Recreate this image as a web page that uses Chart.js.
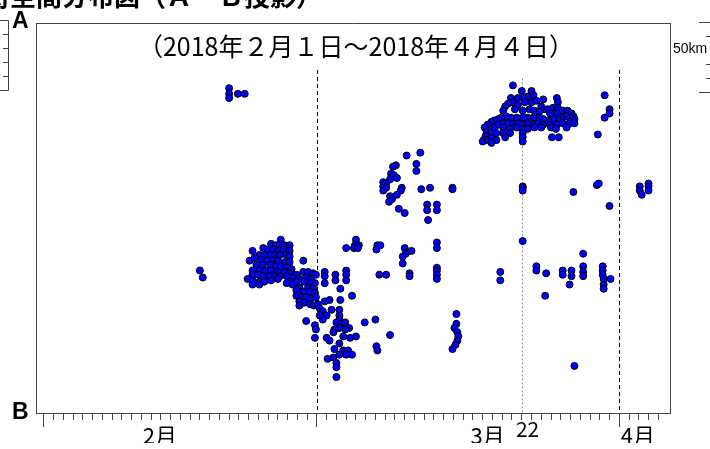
<!DOCTYPE html>
<html>
<head>
<meta charset="utf-8">
<script src="https://cdn.jsdelivr.net/npm/chart.js@4.4.0/dist/chart.umd.min.js"></script>
<style>
  html, body { margin: 0; padding: 0; background: #fff; }
</style>
</head>
<body>
<canvas id="chart" width="710" height="449"></canvas>
<script>
// days since 2018-02-01 00:00, distance along A-B (km from B)
const quakeDay = [
  16.0, 16.3, 19.0, 19.0, 19.0, 19.9, 20.6,
  // late Feb swarm
  24.3, 23.3, 23.8, 24.2, 24.7, 25.2, 22.5, 21.4, 22.9, 23.5, 24.0, 24.6, 25.2,
  22.1, 22.6, 23.2, 23.7, 24.2, 24.9, 25.2, 21.1, 21.6, 22.3, 22.9, 23.5, 24.0,
  24.7, 25.2, 26.6, 21.8, 22.4, 23.2, 23.8, 24.3, 24.9, 25.4, 21.4, 22.1, 22.7,
  23.3, 24.0, 24.7, 25.2, 25.9, 26.6, 27.1, 27.6, 21.4, 22.0, 22.5, 23.1, 23.7,
  24.2, 24.9, 25.5, 26.2, 26.9, 27.4, 27.9, 20.9, 21.4, 22.1, 22.6, 23.3, 24.0,
  25.2, 25.9, 26.7, 27.3, 27.8, 21.4, 22.1, 24.9, 25.5, 26.2, 27.1, 27.6, 25.9,
  26.6, 27.2, 27.8, 25.9, 26.4, 26.9, 27.4, 27.9, 26.2, 26.7, 27.3, 27.7, 26.2, 28.1,
  // early Mar
  32.0, 31.9, 32.3, 31.8, 32.2, 31.0, 34.2, 34.5, 34.1, 28.8, 28.8, 28.8, 29.9,
  29.9, 31.0, 31.0, 31.0, 34.4, 35.1, 30.4, 31.6, 30.4, 28.8, 29.3, 28.3, 28.6,
  29.5, 28.3, 29.0, 30.3, 30.3, 30.3, 30.0, 30.5, 30.9, 31.3, 30.9, 30.3, 29.8,
  26.9, 27.8, 27.9, 27.8, 28.6, 32.9, 34.0, 29.0, 29.3, 29.7, 30.7, 31.4, 32.0,
  35.5, 34.1, 34.2, 29.8, 30.3, 30.7, 31.2, 31.6, 31.0, 30.3, 29.7, 29.1, 30.0,
  30.0, 30.0,
  // mid Mar
  37.2, 38.6, 38.2, 38.2, 36.1, 35.8, 35.6, 35.9, 36.2, 35.5, 34.8, 35.1, 34.8,
  35.1, 34.8, 36.7, 36.6, 38.7, 39.6, 41.9, 41.9, 35.5, 35.7, 36.2, 35.4, 36.4,
  37.0, 39.3, 39.3, 40.3, 40.3, 39.4, 37.0, 37.2, 37.7, 37.1, 36.8, 36.8, 40.3,
  40.3, 37.5, 37.5, 40.3, 40.3, 40.3, 40.3, 42.3, 42.3, 42.1, 42.4, 42.5, 42.4,
  42.2, 41.9,
  // late Mar swarm
  48.1, 49.0, 50.0, 50.2, 49.6, 49.1, 48.6, 47.9, 51.2, 52.6, 52.7, 48.1, 47.6,
  47.3, 47.1, 48.6, 49.3, 50.0, 50.5, 51.0, 51.3, 51.7, 52.2, 52.7, 48.3, 49.1,
  49.8, 50.3, 50.8, 51.9, 52.4, 52.7, 53.2, 53.7, 54.1, 54.3, 54.4, 53.9, 53.6,
  53.1, 52.7, 52.2, 51.7, 51.2, 50.7, 50.2, 49.6, 49.1, 48.5, 47.9, 47.4, 46.9,
  46.6, 46.2, 45.9, 45.5, 45.2, 45.4, 45.3, 45.1, 45.0, 45.5, 45.9, 45.9, 46.2,
  46.6, 47.1, 47.6, 48.1, 48.6, 49.1, 49.6, 50.2, 50.7, 51.2, 51.9, 52.6, 53.2,
  53.9, 54.4, 47.1, 47.8, 48.5, 49.1, 49.6, 50.3, 51.0, 52.0, 52.5, 53.6, 46.4,
  47.1, 47.8, 49.1, 49.1, 49.1, 46.4, 47.3, 45.9, 52.1, 52.8,
  57.5, 58.0, 58.0, 57.5, 56.8,
  // scattered, late Mar - early Apr
  49.1, 49.1, 49.1, 54.3, 56.7, 56.9, 58.0, 61.1, 61.1, 61.3, 62.0, 62.0, 62.0,
  49.1, 55.3, 46.8, 46.8, 50.5, 50.5, 51.5, 51.4, 53.2, 53.2, 54.1, 54.1, 53.9,
  55.3, 55.3, 55.3, 57.3, 57.3, 57.3, 57.4, 57.4, 57.4, 58.1, 54.4
];

const quakeDist = [
  99, 94, 229, 225, 222, 225, 225,
  121, 118, 117, 117, 117, 117, 115, 113, 114, 114, 113, 114, 113,
  110, 110, 110, 110, 110, 110, 109, 106, 108, 107, 106, 106, 106,
  105, 105, 106, 103, 103, 103, 102, 102, 101, 100, 99, 99, 99,
  99, 98, 98, 97, 96, 98, 98, 97, 96, 96, 95, 95, 95,
  95, 95, 94, 93, 94, 93, 96, 93, 92, 91, 91, 92, 93,
  91, 91, 91, 90, 90, 89, 89, 90, 89, 87, 87, 86, 85,
  84, 84, 83, 81, 80, 80, 79, 80, 77, 76, 75, 74, 74, 75,
  121, 117, 117, 115, 115, 115, 117, 117, 114, 98, 95, 90, 96,
  92, 99, 96, 92, 96, 96, 86, 81, 78, 77, 78, 72, 70,
  71, 67, 67, 71, 67, 64, 62, 61, 62, 58, 57, 58, 57,
  63, 60, 57, 51, 64, 62, 64, 51, 49, 55, 52, 51, 52,
  53, 45, 42, 43, 47, 42, 42, 39, 39, 39, 37, 36, 33,
  30, 23,
  181, 183, 175, 170, 174, 173, 168, 167, 165, 164, 162, 161, 159,
  158, 156, 158, 156, 157, 158, 158, 157, 152, 150, 153, 148, 143,
  140, 146, 142, 146, 142, 135, 115, 112, 113, 111, 109, 104, 119,
  115, 97, 95, 101, 99, 96, 93, 68, 61, 58, 55, 52, 49,
  46, 43,
  231, 227, 227, 224, 223, 222, 222, 222, 221, 222, 219, 219, 218,
  216, 213, 217, 219, 219, 220, 216, 214, 214, 215, 215, 214, 213,
  214, 213, 212, 211, 211, 211, 213, 213, 211, 209, 207, 208, 209,
  208, 207, 207, 206, 207, 208, 208, 208, 208, 208, 208, 209, 208,
  207, 206, 205, 203, 201, 198, 195, 192, 191, 192, 195, 198, 201,
  203, 204, 204, 204, 204, 203, 204, 203, 204, 203, 203, 203, 204,
  204, 204, 201, 200, 201, 200, 200, 201, 201, 201, 200, 201, 197,
  197, 197, 197, 194, 191, 192, 194, 190, 194, 194,
  224, 214, 211, 208, 196,
  159, 158, 156, 155, 160, 161, 145, 159, 156, 153, 161, 159, 156,
  120, 111, 98, 92, 102, 99, 97, 81, 99, 96, 99, 95, 89,
  102, 98, 95, 102, 99, 96, 93, 89, 86, 93, 31
];

// x axis: one tick per day, long ticks on the 1st of each month
const lastTickDay = 63;
const monthStartDays = [0, 28, 59];
const tickLabels = ['2月', '3月', '22', '4月'];
const tickLabelDays = [11.9, 45.5, 49.6, 60.9];

// dashed reference lines (month starts) and the dotted 22 Mar line
const refLines = [
  { day: 28, fromKm: 242, color: '#000', dash: [4, 3] },
  { day: 49, fromKm: 236, color: '#888', dash: [2, 2] },
  { day: 59, fromKm: 242, color: '#000', dash: [4, 3] }
];

const frameColor = '#444';
const cjk = '"Noto Sans CJK JP", "Noto Sans", sans-serif';

const isLabelTick = (ctx) => ctx.index > lastTickDay;

const decorations = {
  id: 'decorations',
  beforeDatasetsDraw(chart) {
    const { ctx, chartArea, scales } = chart;
    ctx.save();
    refLines.forEach(l => {
      const px = Math.round(scales.x.getPixelForValue(l.day)) + 0.5;
      ctx.beginPath();
      ctx.setLineDash(l.dash);
      ctx.strokeStyle = l.color;
      ctx.lineWidth = 1;
      ctx.moveTo(px, scales.y.getPixelForValue(l.fromKm));
      ctx.lineTo(px, chartArea.bottom);
      ctx.stroke();
    });
    ctx.restore();
  },
  afterDraw(chart) {
    const { ctx, chartArea } = chart;
    ctx.save();
    ctx.fillStyle = '#000';

    // period
    ctx.font = '25px ' + cjk;
    ctx.textAlign = 'center';
    ctx.textBaseline = 'alphabetic';
    ctx.fillText('（2018年２月１日～2018年４月４日）', (chartArea.left + chartArea.right) / 2 + 3, 56);

    // page title, cut by the top edge
    ctx.font = 'bold 26px ' + cjk;
    ctx.textAlign = 'right';
    ctx.fillText('の時空間分布図（Ａ－Ｂ投影）', 322, 6);

    // end points of the profile
    ctx.font = 'bold 23px "Liberation Sans", Arial, sans-serif';
    ctx.textAlign = 'left';
    ctx.fillText('A', 12, 28);
    ctx.fillText('B', 12, 419);

    // fragments of neighbouring scale bars
    ctx.strokeStyle = frameColor;
    ctx.lineWidth = 1;
    ctx.beginPath();
    ctx.moveTo(0, 20.5); ctx.lineTo(8.5, 20.5); ctx.lineTo(8.5, 90.5); ctx.lineTo(0, 90.5);
    [34.5, 48.5, 62.5, 76.5].forEach(y => { ctx.moveTo(3, y); ctx.lineTo(8.5, y); });
    ctx.moveTo(699, 22.5); ctx.lineTo(710, 22.5);
    ctx.moveTo(699, 92.5); ctx.lineTo(710, 92.5);
    [36.5, 64.5, 78.5].forEach(y => { ctx.moveTo(706, y); ctx.lineTo(710, y); });
    ctx.stroke();
    ctx.font = '14px "Liberation Sans", Arial, sans-serif';
    ctx.textBaseline = 'middle';
    ctx.fillText('50km', 673, 49);
    ctx.restore();
  }
};

const points = quakeDay.map((d, i) => ({ x: d, y: quakeDist[i] }));

new Chart(document.getElementById('chart'), {
  type: 'scatter',
  data: {
    datasets: [{
      data: points,
      pointRadius: 3.5,
      pointHoverRadius: 3.5,
      backgroundColor: '#0000ff',
      borderColor: '#000',
      borderWidth: 1
    }]
  },
  options: {
    responsive: false,
    animation: false,
    events: [],
    layout: { padding: { left: 36, top: 23, right: 40, bottom: 6 } },
    plugins: { legend: { display: false }, tooltip: { enabled: false } },
    scales: {
      x: {
        type: 'linear',
        position: 'bottom',
        min: -0.8,
        max: 64.2,
        afterBuildTicks: (scale) => {
          const ticks = [];
          for (let d = 0; d <= lastTickDay; d++) ticks.push({ value: d });
          tickLabelDays.forEach(v => ticks.push({ value: v }));
          scale.ticks = ticks;
        },
        afterFit: (scale) => { scale.height = 30; },
        border: { color: frameColor, width: 1 },
        grid: {
          drawOnChartArea: false,
          tickLength: 14,
          tickWidth: 1,
          tickColor: (ctx) => isLabelTick(ctx) ? 'rgba(0,0,0,0)' : frameColor,
          tickBorderDash: (ctx) => {
            if (!ctx.tick || isLabelTick(ctx) || monthStartDays.includes(ctx.tick.value)) return [];
            return [6, 40];
          }
        },
        ticks: {
          autoSkip: false,
          maxRotation: 0,
          padding: 0,
          color: '#000',
          callback: (value, index) => index > lastTickDay ? tickLabels[index - lastTickDay - 1] : '',
          font: (ctx) => {
            const isDay = isLabelTick(ctx) && tickLabels[ctx.index - lastTickDay - 1] === '22';
            return { family: cjk, size: isDay ? 21 : 22, lineHeight: isDay ? '4px' : '17px' };
          }
        }
      },
      x2: {
        type: 'linear',
        position: 'top',
        min: -0.8,
        max: 64.2,
        afterFit: (scale) => { scale.height = 0; },
        border: { color: frameColor, width: 1 },
        grid: { display: false, drawTicks: false },
        ticks: { display: false }
      },
      y: {
        type: 'linear',
        position: 'left',
        min: -2.6,
        max: 275.5,
        afterFit: (scale) => { scale.width = 0; },
        border: { color: frameColor, width: 1 },
        grid: { display: false, drawTicks: false },
        ticks: { display: false }
      },
      y2: {
        type: 'linear',
        position: 'right',
        min: -2.6,
        max: 275.5,
        afterFit: (scale) => { scale.width = 0; },
        border: { color: frameColor, width: 1 },
        grid: { display: false, drawTicks: false },
        ticks: { display: false }
      }
    }
  },
  plugins: [decorations]
});
</script>
</body>
</html>
